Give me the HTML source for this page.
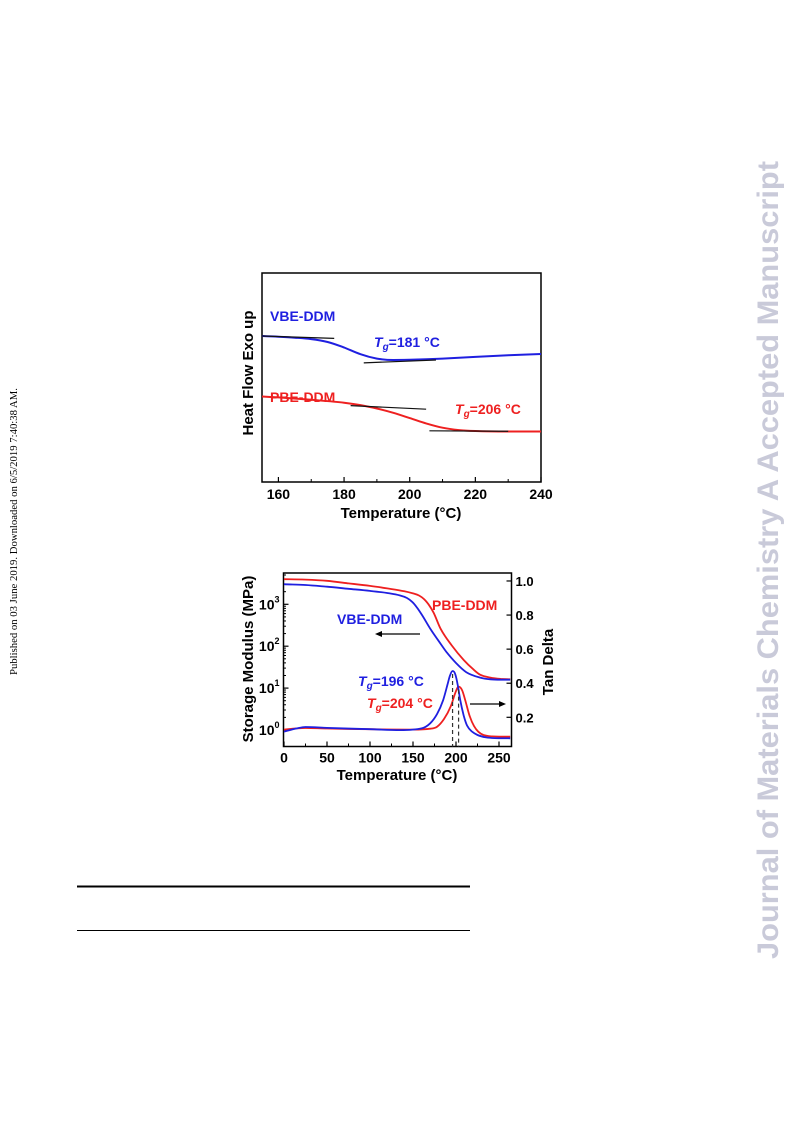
<!DOCTYPE html>
<html><head><meta charset="utf-8"><style>
html,body{margin:0;padding:0;background:#fff;}
svg{display:block;font-family:"Liberation Sans",Arial,sans-serif;}
</style></head><body>
<svg id="page" width="793" height="1121" viewBox="0 0 793 1121">
<text transform="translate(778,959) rotate(-90)" font-size="30" font-weight="bold" fill="#c9cad9" textLength="798" lengthAdjust="spacingAndGlyphs">Journal of Materials Chemistry A Accepted Manuscript</text>
<text transform="translate(17,675) rotate(-90)" font-family="Liberation Serif,serif" font-size="10" fill="#000" textLength="287" lengthAdjust="spacingAndGlyphs">Published on 03 June 2019. Downloaded on 6/5/2019 7:40:38 AM.</text>
<line x1="77" y1="886.5" x2="470" y2="886.5" stroke="#000" stroke-width="2"/>
<line x1="77" y1="930.5" x2="470" y2="930.5" stroke="#000" stroke-width="1"/>
<g id="dsc"></g>
<g id="dma"></g>
</svg>
<script>
// DSC chart data
const dscTemps = [155,160,165,170,175,180,185,190,195,200,210,220,230,240];
const dscVBE = [0.0,-0.3,-0.7,-1.3,-2.5,-4.8,-7.6,-9.4,-10.0,-9.9,-9.4,-8.7,-8.0,-7.5];
const dscPBEtemps = [155,160,170,180,185,190,195,200,205,210,215,220,230,240];
const dscPBE = [-25.2,-25.6,-26.6,-27.8,-28.8,-30.2,-32.0,-34.2,-36.4,-38.2,-39.2,-39.6,-39.8,-39.8];
const dscXTicks = [160,180,200,220,240];
const dscTangents = [[155,0.0,177,-1.0],[186,-11.2,208,-10.0],[182,-29.0,205,-30.5],[206,-39.5,230,-39.7]];

// DMA chart data (log10 modulus)
const modTemps = [0,25,50,75,100,120,140,150,157,163,168,174,182,195,209,220,228,240,252,263];
const modPBE = [3.60,3.59,3.56,3.50,3.44,3.38,3.31,3.26,3.21,3.12,3.00,2.80,2.42,2.02,1.67,1.45,1.32,1.25,1.22,1.21];
const modVBTemps = [0,25,50,75,100,120,135,143,149,154,160,170,180,189,200,212,228,240,252,263];
const modVBE = [3.48,3.46,3.42,3.37,3.32,3.27,3.21,3.15,3.06,2.94,2.76,2.42,2.12,1.86,1.60,1.38,1.25,1.21,1.20,1.20];
const tanTemps = [0,15,25,50,100,135,160,170,178,185,190,193,196,199,202,205,209,213,219,225,235,245,263];
const tanVBE = [0.116,0.135,0.143,0.138,0.130,0.125,0.135,0.165,0.220,0.300,0.390,0.445,0.472,0.455,0.390,0.300,0.210,0.150,0.115,0.096,0.082,0.078,0.077];
const tanTemps2 = [0,15,25,50,100,150,170,178,186,194,199,203,207,211,216,221,226,232,242,263];
const tanPBE = [0.128,0.135,0.137,0.134,0.130,0.128,0.133,0.145,0.190,0.265,0.340,0.380,0.360,0.295,0.205,0.148,0.115,0.096,0.088,0.086];
const dmaXTicks = [0,50,100,150,200,250];
const logTicks = [0,1,2,3];
const tanTicks = [0.2,0.4,0.6,0.8,1.0];
const tgPeaks = [196,203];
const tgPeakVals = [0.472,0.380];

const NS='http://www.w3.org/2000/svg';
function mk(parent,tag,attrs){const e=document.createElementNS(NS,tag);for(const k in attrs)e.setAttribute(k,attrs[k]);parent.appendChild(e);return e;}
function pathFrom(xs,ys,fx,fy){
  const X=xs.map(fx),Y=ys.map(fy),n=X.length;
  const d=[],m=[];
  for(let i=0;i<n-1;i++)d.push((Y[i+1]-Y[i])/(X[i+1]-X[i]));
  m[0]=d[0];m[n-1]=d[n-2];
  for(let i=1;i<n-1;i++){m[i]=(d[i-1]*d[i]<=0)?0:(d[i-1]+d[i])/2;}
  for(let i=0;i<n-1;i++){
    if(d[i]===0){m[i]=0;m[i+1]=0;continue;}
    const a=m[i]/d[i],b=m[i+1]/d[i],s=a*a+b*b;
    if(s>9){const t=3/Math.sqrt(s);m[i]=t*a*d[i];m[i+1]=t*b*d[i];}
  }
  let p='M'+X[0].toFixed(1)+','+Y[0].toFixed(1);
  for(let i=0;i<n-1;i++){
    const h=(X[i+1]-X[i])/3;
    p+=' C'+(X[i]+h).toFixed(1)+','+(Y[i]+m[i]*h).toFixed(1)+' '+(X[i+1]-h).toFixed(1)+','+(Y[i+1]-m[i+1]*h).toFixed(1)+' '+X[i+1].toFixed(1)+','+Y[i+1].toFixed(1);
  }
  return p;
}
const BLUE='#1f1fe0', RED='#ee2020';

// ---------- DSC ----------
(function(){
  const g=document.getElementById('dsc');
  const L=262,R=541,T=273,B=482;
  const fx=t=>L+(t-155)*(R-L)/85;
  const fy=v=>336-v*2.4;
  let e;
  e=mk(g,'rect',{x:L,y:T,width:R-L,height:B-T,fill:'none',stroke:'#000','stroke-width':1.5});
  
  
  dscXTicks.forEach(t=>{
    e=mk(g,'line',{x1:fx(t),y1:B,x2:fx(t),y2:B-5,stroke:'#000','stroke-width':1.2});
    
    
    e=mk(g,'text',{x:fx(t),y:B+17,'text-anchor':'middle','font-size':14,'font-weight':'bold'});
    e.textContent=t;
    
    
  });
  for(let t=170;t<240;t+=20){e=mk(g,'line',{x1:fx(t),y1:B,x2:fx(t),y2:B-3,stroke:'#000'});
    
    }
  e=mk(g,'path',{d:pathFrom(dscTemps,dscVBE,fx,fy),fill:'none',stroke:BLUE,'stroke-width':2});
  
  
  e=mk(g,'path',{d:pathFrom(dscPBEtemps,dscPBE,fx,fy),fill:'none',stroke:RED,'stroke-width':2});
  
  
  dscTangents.forEach(tg=>{
    e=mk(g,'line',{x1:fx(tg[0]),y1:fy(tg[1]),x2:fx(tg[2]),y2:fy(tg[3]),stroke:'#111','stroke-width':1.2});
    
    
  });
  g.insertAdjacentHTML('beforeend',
  '<text x="401" y="518" text-anchor="middle" font-size="15" font-weight="bold">Temperature (°C)</text>'+
  '<text transform="translate(253,373) rotate(-90)" text-anchor="middle" font-size="15" font-weight="bold">Heat Flow Exo up</text>'+
  '<text x="270" y="321" font-size="14" font-weight="bold" fill="#1f1fe0">VBE-DDM</text>'+
  '<text x="374" y="347" font-size="14" font-weight="bold" fill="#1f1fe0"><tspan font-style="italic">T</tspan><tspan font-style="italic" font-size="10" dy="3">g</tspan><tspan dy="-3">=181 °C</tspan></text>'+
  '<text x="270" y="402" font-size="14" font-weight="bold" fill="#ee2020">PBE-DDM</text>'+
  '<text x="455" y="414" font-size="14" font-weight="bold" fill="#ee2020"><tspan font-style="italic">T</tspan><tspan font-style="italic" font-size="10" dy="3">g</tspan><tspan dy="-3">=206 °C</tspan></text>');
})();

// ---------- DMA ----------
(function(){
  const g=document.getElementById('dma');
  const L=283.5,R=511.5,T=573,B=746.5;
  const fx=t=>284+t*0.86;
  const fyL=v=>730-v*41.9;
  const fyR=v=>717.3-(v-0.2)*170.4;
  let e;
  e=mk(g,'rect',{x:L,y:T,width:R-L,height:B-T,fill:'none',stroke:'#000','stroke-width':1.5});
  
  
  dmaXTicks.forEach(t=>{
    e=mk(g,'line',{x1:fx(t),y1:B,x2:fx(t),y2:B-5,stroke:'#000','stroke-width':1.2});
    
    
    e=mk(g,'text',{x:fx(t),y:B+16,'text-anchor':'middle','font-size':14,'font-weight':'bold'});
    e.textContent=t;
    
    
  });
  for(let t=25;t<263;t+=50){e=mk(g,'line',{x1:fx(t),y1:B,x2:fx(t),y2:B-3,stroke:'#000'});
    
    }
  logTicks.forEach(v=>{
    e=mk(g,'line',{x1:L,y1:fyL(v),x2:L+5,y2:fyL(v),stroke:'#000','stroke-width':1.2});
    
    
    for(let m=2;m<10;m++){const yy=fyL(v+Math.log10(m));if(yy>T){
      e=mk(g,'line',{x1:L,y1:yy,x2:L+2.5,y2:yy,stroke:'#000'});
      
      }}
    e=mk(g,'text',{x:L-4,y:fyL(v)+5,'text-anchor':'end','font-size':14,'font-weight':'bold'});
    e.innerHTML='10<tspan font-size="9" dy="-7">'+v+'</tspan>';
    
    
  });
  tanTicks.forEach(v=>{
    e=mk(g,'line',{x1:R,y1:fyR(v),x2:R-5,y2:fyR(v),stroke:'#000','stroke-width':1.2});
    
    
    e=mk(g,'text',{x:R+4,y:fyR(v)+5,'font-size':13,'font-weight':'bold'});
    e.textContent=v.toFixed(1);
    
    
  });
  e=mk(g,'path',{d:pathFrom(modTemps,modPBE,fx,fyL),fill:'none',stroke:RED,'stroke-width':1.8});
  
  
  e=mk(g,'path',{d:pathFrom(modVBTemps,modVBE,fx,fyL),fill:'none',stroke:BLUE,'stroke-width':1.8});
  
  
  e=mk(g,'path',{d:pathFrom(tanTemps2,tanPBE,fx,fyR),fill:'none',stroke:RED,'stroke-width':1.8});
  
  
  e=mk(g,'path',{d:pathFrom(tanTemps,tanVBE,fx,fyR),fill:'none',stroke:BLUE,'stroke-width':1.8});
  
  
  tgPeaks.forEach((t,i)=>{
    e=mk(g,'line',{x1:fx(t),y1:fyR(tgPeakVals[i])+3,x2:fx(t),y2:B,stroke:'#333','stroke-width':1.2,'stroke-dasharray':'4,3'});
    
    
  });
  g.insertAdjacentHTML('beforeend',
  '<text x="397" y="780" text-anchor="middle" font-size="15" font-weight="bold">Temperature (°C)</text>'+
  '<text transform="translate(253,659) rotate(-90)" text-anchor="middle" font-size="15" font-weight="bold">Storage Modulus (MPa)</text>'+
  '<text transform="translate(553,662) rotate(-90)" text-anchor="middle" font-size="15" font-weight="bold">Tan Delta</text>'+
  '<text x="432" y="610" font-size="14" font-weight="bold" fill="#ee2020">PBE-DDM</text>'+
  '<text x="337" y="624" font-size="14" font-weight="bold" fill="#1f1fe0">VBE-DDM</text>'+
  '<text x="358" y="686" font-size="14" font-weight="bold" fill="#1f1fe0"><tspan font-style="italic">T</tspan><tspan font-style="italic" font-size="10" dy="3">g</tspan><tspan dy="-3">=196 °C</tspan></text>'+
  '<text x="367" y="708" font-size="14" font-weight="bold" fill="#ee2020"><tspan font-style="italic">T</tspan><tspan font-style="italic" font-size="10" dy="3">g</tspan><tspan dy="-3">=204 °C</tspan></text>'+
  '<g><line x1="420" y1="634" x2="380" y2="634" stroke="#000" stroke-width="1.3"/><polygon points="375,634 382,631 382,637" fill="#000"/></g>'+
  '<g><line x1="470" y1="704" x2="500" y2="704" stroke="#000" stroke-width="1.3"/><polygon points="506,704 499,701 499,707" fill="#000"/></g>');
})();
</script>
</body></html>
